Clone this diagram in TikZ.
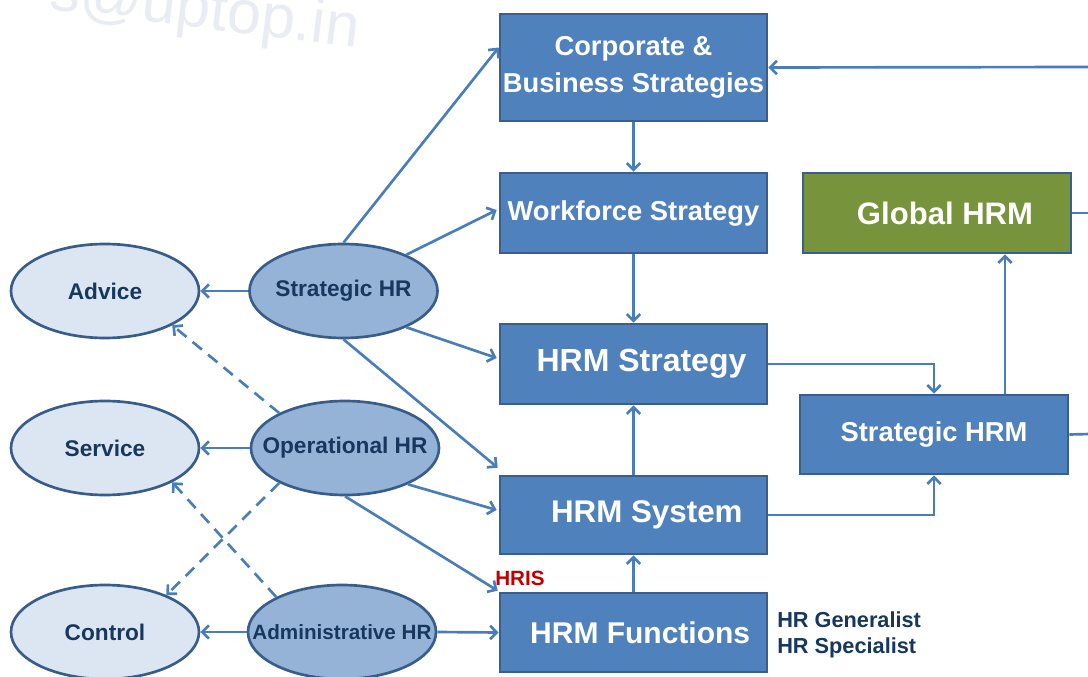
\documentclass[tikz,border=0pt]{standalone}
\usepackage{fontspec}
\setmainfont{Liberation Sans}
\usetikzlibrary{shapes.geometric,arrows.meta,calc}
\definecolor{boxfill}{HTML}{4F81BD}
\definecolor{boxline}{HTML}{3A5F8E}
\definecolor{greenfill}{HTML}{77933C}
\definecolor{conn}{HTML}{4A7EBB}
\definecolor{lightell}{HTML}{DCE6F2}
\definecolor{darkell}{HTML}{95B3D7}
\definecolor{elline}{HTML}{385D8A}
\definecolor{navy}{HTML}{17375E}
\definecolor{hrisred}{HTML}{C00000}
\definecolor{wmark}{HTML}{E9ECF2}
\begin{document}
\begin{tikzpicture}[x=0.75pt,y=-0.75pt,
  bluebox/.style={draw=boxline,line width=2pt,fill=boxfill,text=white,font=\bfseries,inner sep=0pt,minimum width=200.25pt},
  greenbox/.style={bluebox,fill=greenfill},
  lightel/.style={ellipse,draw=elline,line width=2pt,fill=lightell,text=navy,inner sep=0pt,minimum width=141pt,minimum height=70.5pt,font=\fontsize{17}{20}\selectfont\bfseries},
  darkel/.style={lightel,fill=darkell},
  conline/.style={draw=conn,line width=2pt,-{Straight Barb[length=5pt,width=10pt]}},
  dashline/.style={conline,dash pattern=on 9pt off 6pt},
  plainline/.style={draw=conn,line width=2pt}
]
\useasboundingbox (0,0) rectangle (1088,677);
% watermark
\node[text=wmark,font=\fontsize{46}{50}\selectfont,rotate=-7,anchor=base east] (wm) at (362,48) {s@uptop.in};
% boxes
\node[bluebox,minimum height=80.25pt,font=\fontsize{20.5}{27.5}\selectfont\bfseries,align=center] (corp) at (633.5,67.5) {Corporate \&\\Business Strategies};
\node[bluebox,minimum height=60pt,font=\fontsize{20.5}{24}\selectfont\bfseries] (work) at (633.5,213) {Workforce Strategy};
\node[bluebox,minimum height=60pt,font=\fontsize{24}{27}\selectfont\bfseries] (hstr) at (633.5,364) {\hspace{12pt}HRM Strategy};
\node[bluebox,minimum height=58.5pt,font=\fontsize{23.5}{26}\selectfont\bfseries] (hsys) at (633.5,515) {\hspace{20pt}HRM System};
\node[bluebox,minimum height=59.25pt,font=\fontsize{22.5}{26}\selectfont\bfseries] (hfun) at (633.5,632.5) {\hspace{10pt}HRM Functions};
\node[greenbox,minimum width=201pt,minimum height=60pt,font=\fontsize{23.3}{26}\selectfont\bfseries] (glob) at (937,213) {\hspace{12pt}Global HRM};
\node[bluebox,minimum width=201pt,minimum height=59.25pt,font=\fontsize{20.5}{24}\selectfont\bfseries] (shrm) at (934,434.5) {Strategic HRM};
% ellipses
\node[lightel] (adv) at (105,291) {\makebox[0pt]{Advice}};
\node[lightel] (svc) at (105,448) {\makebox[0pt]{Service}};
\node[lightel] (ctl) at (105,632) {\makebox[0pt]{Control}};
\node[darkel] (shr) at (343.5,291) {\makebox[0pt]{Strategic HR}};
\node[darkel] (ohr) at (345,448) {\makebox[0pt]{Operational HR}};
\node[darkel] (ahr) at (342,632) {\makebox[0pt]{\fontsize{15.5}{18}\selectfont\bfseries Administrative HR}};
% labels
\node[text=hrisred,font=\fontsize{15.5}{18}\selectfont\bfseries,anchor=south west,inner sep=0pt] (hris) at (495,586) {HRIS};
\node[text=navy,font=\fontsize{16.3}{20}\selectfont\bfseries,anchor=west,align=left,inner sep=0pt] (hrgs) at (777,635) {HR Generalist\\HR Specialist};
% coordinates for free ends
\coordinate (rtop) at (1090,67);
\coordinate (rglob) at (1090,213);
\coordinate (rshrm) at (1090,434);
% ellipse to ellipse
\draw[conline] (shr.west) -- (adv.east);
\draw[conline] (ohr.west) -- (svc.east);
\draw[conline] (ahr.west) -- (ctl.east);
\draw[dashline] (ohr.152) -- (adv.-27);
\draw[dashline] (ahr.152) -- (svc.-27);
\draw[dashline] (ohr.208) -- (ctl.31);
% ellipses to boxes
\draw[conline] (shr.north) -- ($(corp.west)+(0,-20)$);
\draw[conline] (shr.30) -- ($(work.west)+(-2,-3)$);
\draw[conline] (shr.-30) -- ($(hstr.west)+(-2,-6)$);
\draw[conline] (shr.south) -- ($(hsys.north west)+(-1,-7)$);
\draw[conline] (ohr.-30) -- ($(hsys.west)+(-2,-5)$);
\draw[conline] (ohr.south) -- ($(hfun.north west)+(-1,-1)$);
\draw[conline] (ahr.east) -- (hfun.west);
% box to box
\draw[conline] (corp.south) -- (work.north);
\draw[conline] (work.south) -- (hstr.north);
\draw[conline] (hsys.north) -- (hstr.south);
\draw[conline] (hfun.north) -- (hsys.south);
\draw[conline] (hstr.east) -| (shrm.north);
\draw[conline] (hsys.east) -| (shrm.south);
\draw[conline] ($(shrm.north)+(71,0)$) coordinate (su) -- (su |- glob.south);
\draw[plainline] (glob.east) -- (rglob);
\draw[plainline] (shrm.east) -- (rshrm);
\draw[conline] (rtop) -- (corp.east);
\end{tikzpicture}
\end{document}
